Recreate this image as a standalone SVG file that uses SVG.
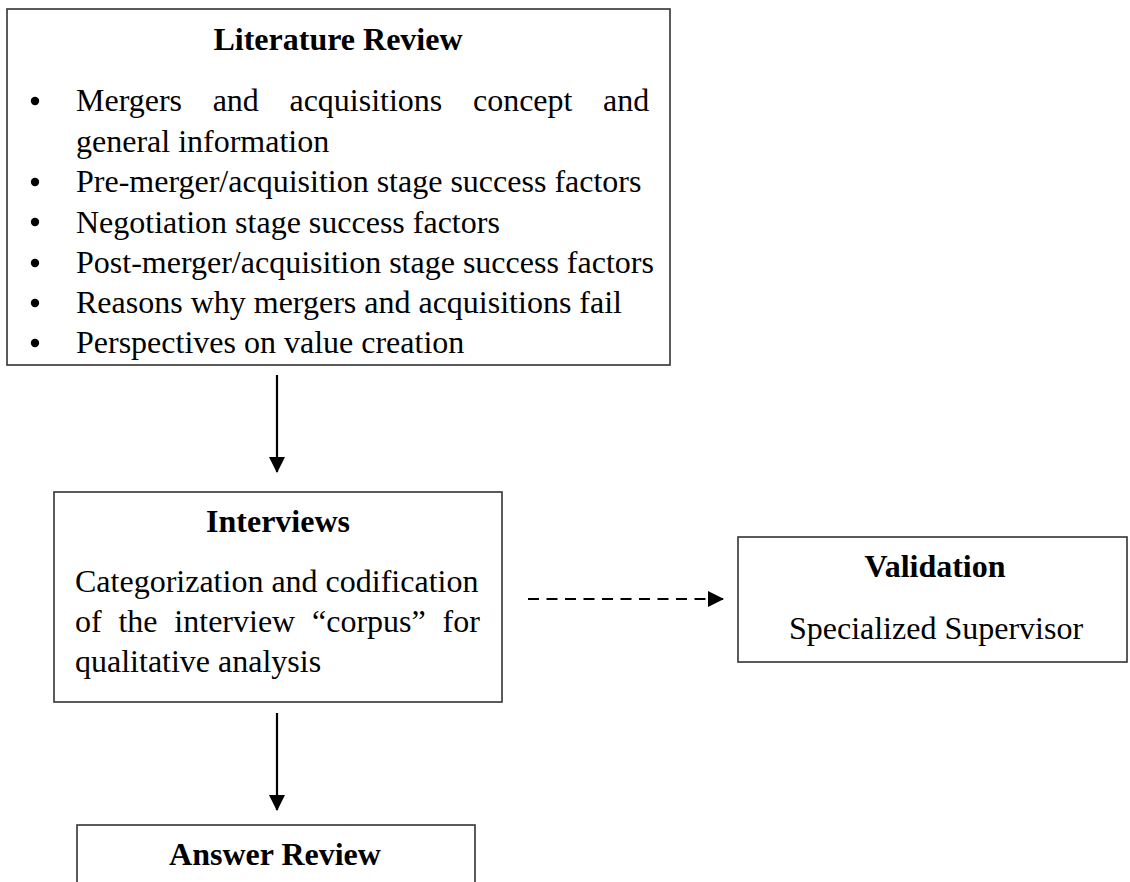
<svg xmlns="http://www.w3.org/2000/svg" width="1130" height="882" viewBox="0 0 1130 882">
<defs>
<style>
.box{fill:#fff;stroke:#333;stroke-width:1.6}
.t{font-family:"Liberation Serif","Times New Roman",serif;font-size:32px;fill:#000}
.b{font-weight:bold}
.m{text-anchor:middle}
.ln{stroke:#000;stroke-width:2.2;fill:none}
.dash{stroke-dasharray:11 7.5}
</style>
<marker id="ah" viewBox="0 0 16 16" refX="15" refY="8" markerWidth="16" markerHeight="16" markerUnits="userSpaceOnUse" orient="auto">
<path d="M0,0 L16,8 L0,16 Z" fill="#000"/>
</marker>
</defs>
<rect width="1130" height="882" fill="#fff"/>
<g id="literature-review">
<rect class="box" x="7" y="9" width="663" height="356"/>
<text class="t b m" x="338" y="50">Literature Review</text>
<g fill="#000">
<circle cx="35" cy="101" r="4.2"/>
<circle cx="35" cy="182" r="4.2"/>
<circle cx="35" cy="222" r="4.2"/>
<circle cx="35" cy="263" r="4.2"/>
<circle cx="35" cy="303" r="4.2"/>
<circle cx="35" cy="343" r="4.2"/>
</g>
<text class="t" x="76" y="111" word-spacing="22.6">Mergers and acquisitions concept and</text>
<text class="t" x="76" y="151.5">general information</text>
<text class="t" x="76" y="192">Pre-merger/acquisition stage success factors</text>
<text class="t" x="76" y="232.5">Negotiation stage success factors</text>
<text class="t" x="76" y="273">Post-merger/acquisition stage success factors</text>
<text class="t" x="76" y="313">Reasons why mergers and acquisitions fail</text>
<text class="t" x="76" y="353">Perspectives on value creation</text>
</g>
<g id="interviews">
<rect class="box" x="54" y="492" width="448" height="210"/>
<text class="t b m" x="278" y="532">Interviews</text>
<text class="t" x="75" y="592">Categorization and codification</text>
<text class="t" x="75" y="632" word-spacing="8.8">of the interview “corpus” for</text>
<text class="t" x="75" y="672">qualitative analysis</text>
</g>
<g id="validation">
<rect class="box" x="738" y="537" width="389" height="125"/>
<text class="t b m" x="935" y="577">Validation</text>
<text class="t m" x="936" y="639">Specialized Supervisor</text>
</g>
<g id="answer-review">
<rect class="box" x="77" y="825" width="398" height="80"/>
<text class="t b m" x="275" y="865">Answer Review</text>
</g>
<g id="connectors">
<line class="ln" x1="277" y1="375" x2="277" y2="472" marker-end="url(#ah)"/>
<line class="ln" x1="277" y1="713" x2="277" y2="810" marker-end="url(#ah)"/>
<line class="ln dash" x1="528" y1="599" x2="723" y2="599" marker-end="url(#ah)"/>
</g>
</svg>
